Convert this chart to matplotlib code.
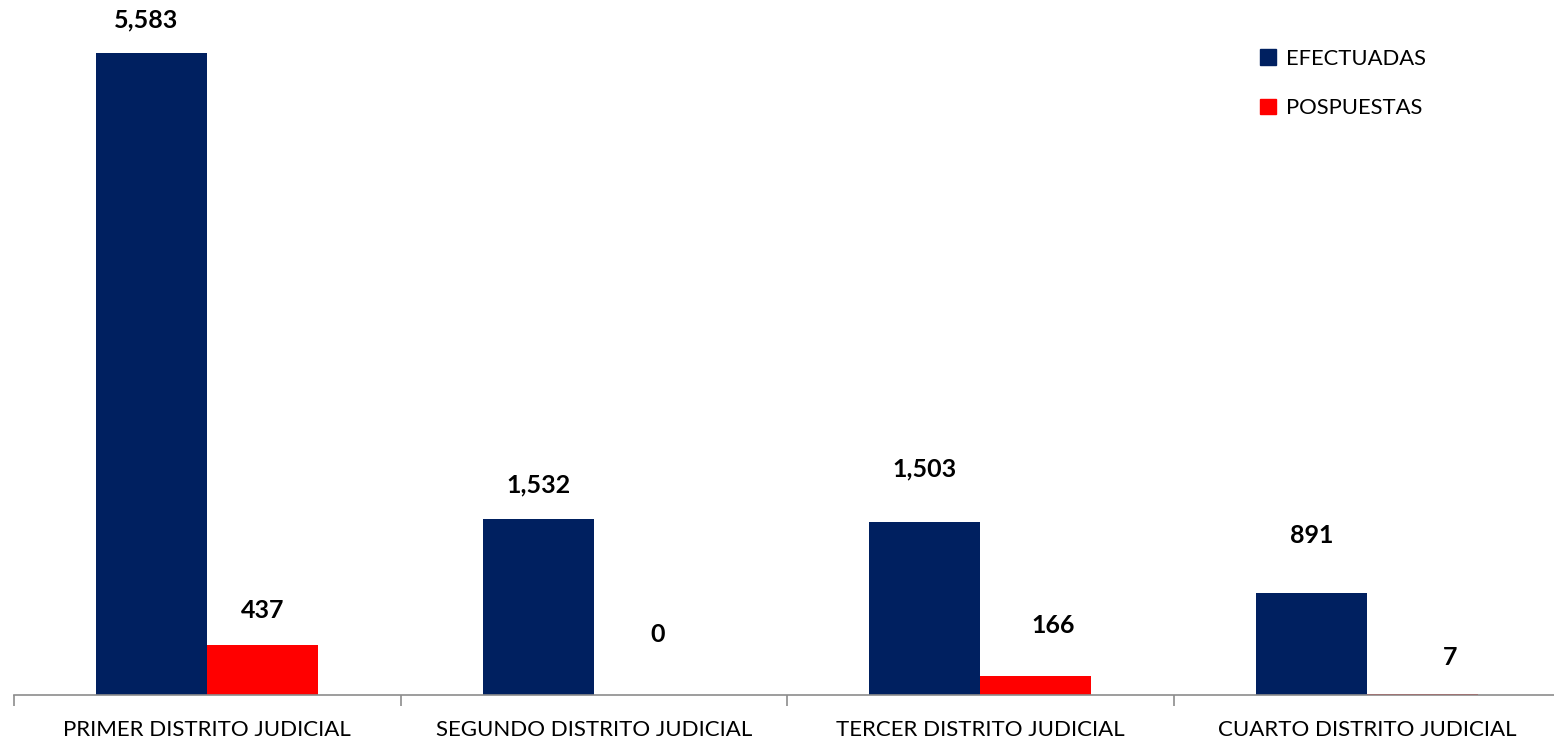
import numpy as np
import matplotlib.pyplot as plt
from matplotlib.patches import Patch

districts = ['PRIMER DISTRITO JUDICIAL', 'SEGUNDO DISTRITO JUDICIAL',
             'TERCER DISTRITO JUDICIAL', 'CUARTO DISTRITO JUDICIAL']
efectuadas = [5583, 1532, 1503, 891]
pospuestas = [437, 0, 166, 7]

# label offsets from bar top centre (pixels, dx / dy), as placed in the original
dx_efe = [-6, 0, 0, 0]
dy_efe = [33, 34, 53, 57]
dx_pos = [0, 8, 17, 28]
dy_pos = [34, 60, 50, 37]

blue = '#002060'
red = '#ff0000'
plt.rcParams['font.family'] = ['Lato', 'DejaVu Sans']

fig = plt.figure(figsize=(15.54, 7.44), dpi=100)
ax = fig.add_axes([14 / 1554, 49 / 744, 1546 / 1554, 690 / 744])

x = np.arange(len(districts))
w = 0.287
b1 = ax.bar(x - w / 2, efectuadas, w, color=blue)
b2 = ax.bar(x + w / 2, pospuestas, w, color=red)

for bars, vals, dxs, dys in [(b1, efectuadas, dx_efe, dy_efe), (b2, pospuestas, dx_pos, dy_pos)]:
    for r, v, dx, dy in zip(bars, vals, dxs, dys):
        ax.annotate(f'{v:,}', (r.get_x() + r.get_width() / 2, r.get_height()),
                    xytext=(dx * 0.72, dy * 0.72), textcoords='offset points',
                    ha='center', va='center', fontsize=18, fontweight='bold')

ax.set_xlim(-0.5, 3.5)
ax.set_ylim(0, 6000)
ax.set_xticks(x)
ax.set_xticklabels(districts, fontsize=16)
ax.set_xticks(np.arange(-0.5, 4, 1), minor=True)
ax.tick_params(axis='x', which='major', length=0, pad=18)
ax.tick_params(axis='x', which='minor', length=8, color='#8c8c8c', width=1.2)
ax.set_yticks([])
for s in ['top', 'right', 'left']:
    ax.spines[s].set_visible(False)
ax.spines['bottom'].set_color('#8c8c8c')
ax.spines['bottom'].set_linewidth(1.2)

handles = [Patch(color=blue, label='EFECTUADAS'), Patch(color=red, label='POSPUESTAS')]
ax.legend(handles=handles, loc='upper left', bbox_to_anchor=(1247 / 1554 - 14 / 1546, 1 - 24 / 690),
          frameon=False, fontsize=15.8, handlelength=0.7, handleheight=0.7,
          handletextpad=0.45, labelspacing=1.35)

fig.savefig('out.png', dpi=100)
